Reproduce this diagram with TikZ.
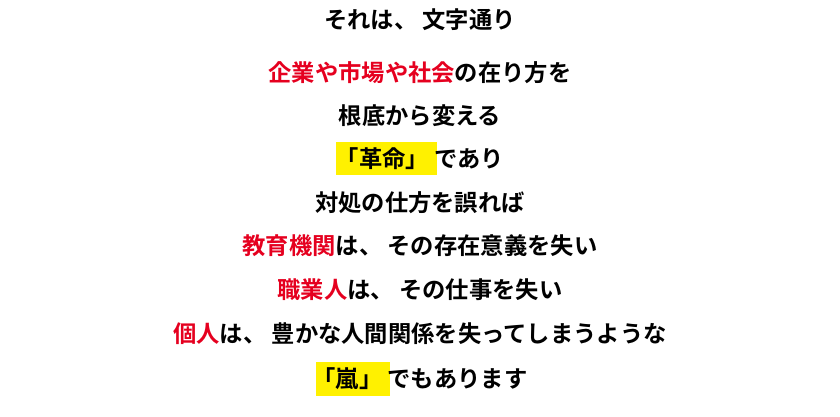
\documentclass[tikz,border=0pt]{standalone}
\usepackage{fontspec}
\newfontfamily\jp{Noto Sans CJK JP}[BoldFont={Noto Sans CJK JP Bold}]
\definecolor{rd}{HTML}{E5001F}
\definecolor{yl}{HTML}{FFF100}
\begin{document}
\begin{tikzpicture}[x=1pt,y=-1pt,
  ln/.style={font=\jp\bfseries\fontsize{23.3}{25}\selectfont, inner sep=0pt, anchor=center}]
\useasboundingbox (0,0) rectangle (840,417);
\fill[yl] (336,142) rectangle (437,175);
\fill[yl] (316,362) rectangle (390,396);
\node[ln] (l1) at (420,20) {それは、 文字通り};
\node[ln] (l2) at (420,73) {\textcolor{rd}{企業や市場や社会}の在り方を};
\node[ln] (l3) at (420,116) {根底から変える};
\node[ln] (l4) at (420,159) {「革命」 であり};
\node[ln] (l5) at (420,203) {対処の仕方を誤れば};
\node[ln] (l6) at (420,246) {\textcolor{rd}{教育機関}は、 その存在意義を失い};
\node[ln] (l7) at (420,290) {\textcolor{rd}{職業人}は、 その仕事を失い};
\node[ln] (l8) at (420,334) {\textcolor{rd}{個人}は、 豊かな人間関係を失ってしまうような};
\node[ln] (l9) at (420,379) {「嵐」 でもあります};
\end{tikzpicture}
\end{document}
